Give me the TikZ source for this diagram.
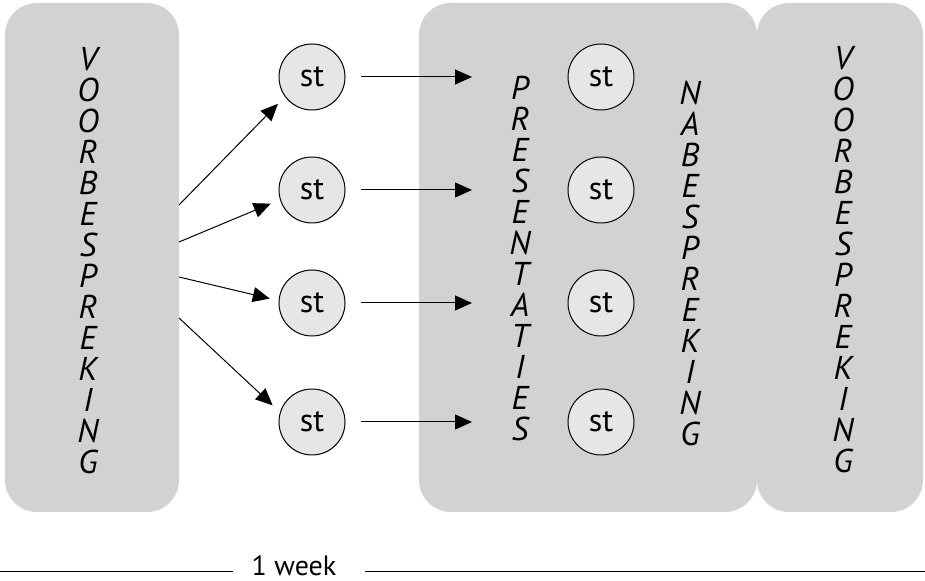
\documentclass[tikz,border=0pt]{standalone}
\usepackage{fontspec}
\setmainfont{PT Sans}
\usetikzlibrary{arrows.meta}

\definecolor{panelgray}{HTML}{D1D2D4}
\definecolor{stgray}{HTML}{E6E6E7}

\tikzset{
  panel/.style={fill=panelgray, rounded corners=16pt, inner sep=0pt},
  letters/.style={font=\fontsize{16.5}{15.5}\selectfont\itshape, align=center, inner sep=0pt, anchor=north},
  stnode/.style={circle, draw, fill=stgray, line width=0.5pt, minimum size=33pt, inner sep=0pt, font=\fontsize{16}{18}\selectfont},
  arr/.style={-{Triangle[length=8.5pt,width=7.5pt]}, line width=0.5pt},
}

\begin{document}
\begin{tikzpicture}[x=0.5pt,y=-0.5pt]
  \useasboundingbox (0,0) rectangle (925,581);

  % panels
  \node[panel, minimum width=87pt, minimum height=254.5pt] (vb) at (92,257.5) {};
  \node[panel, minimum width=169pt, minimum height=254.5pt] (pres) at (588,257.5) {};
  \node[panel, minimum width=83pt, minimum height=254.5pt] (vb2) at (840,257.5) {};

  \node[letters] (vbtext) at (88,47) {V\\O\\O\\R\\B\\E\\S\\P\\R\\E\\K\\I\\N\\G};
  \node[letters] (prtext) at (520,76) {P\\R\\E\\S\\E\\N\\T\\A\\T\\I\\E\\S};
  \node[letters] (nbtext) at (690,81) {N\\A\\B\\E\\S\\P\\R\\E\\K\\I\\N\\G};
  \node[letters] (vb2text) at (843,46) {V\\O\\O\\R\\B\\E\\S\\P\\R\\E\\K\\I\\N\\G};

  % students
  \node[stnode] (s1) at (312,77) {st};
  \node[stnode] (s2) at (312,190) {st};
  \node[stnode] (s3) at (312,303) {st};
  \node[stnode] (s4) at (312,422) {st};

  \node[stnode] (m1) at (601,77) {st};
  \node[stnode] (m2) at (601,190) {st};
  \node[stnode] (m3) at (601,303) {st};
  \node[stnode] (m4) at (601,422) {st};

  \coordinate (o1) at (179,205);
  \coordinate (o2) at (179,242);
  \coordinate (o3) at (179,277);
  \coordinate (o4) at (179,318);
  \coordinate (tip) at (472,0);

  \draw[arr, shorten >=5pt] (o1) -- (s1.216);
  \draw[arr, shorten >=5pt] (o2) -- (s2.197);
  \draw[arr, shorten >=4.5pt] (o3) -- (s3.176);
  \draw[arr, shorten >=5pt] (o4) -- (s4.163);

  \draw[arr, shorten <=7.5pt] (s1.east) -- (s1.east -| tip);
  \draw[arr, shorten <=7.5pt] (s2.east) -- (s2.east -| tip);
  \draw[arr, shorten <=7.5pt] (s3.east) -- (s3.east -| tip);
  \draw[arr, shorten <=7.5pt] (s4.east) -- (s4.east -| tip);

  % time line
  \node[font=\fontsize{14}{15}\selectfont, inner sep=0pt] (week) at (294,566) {1 week};
  \coordinate (ll) at (0,572);
  \coordinate (lr) at (925,572);
  \draw[line width=0.5pt, shorten >=9pt] (ll) -- (ll -| week.west);
  \draw[line width=0.5pt, shorten <=14pt] (week.east |- lr) -- (lr);
\end{tikzpicture}
\end{document}
